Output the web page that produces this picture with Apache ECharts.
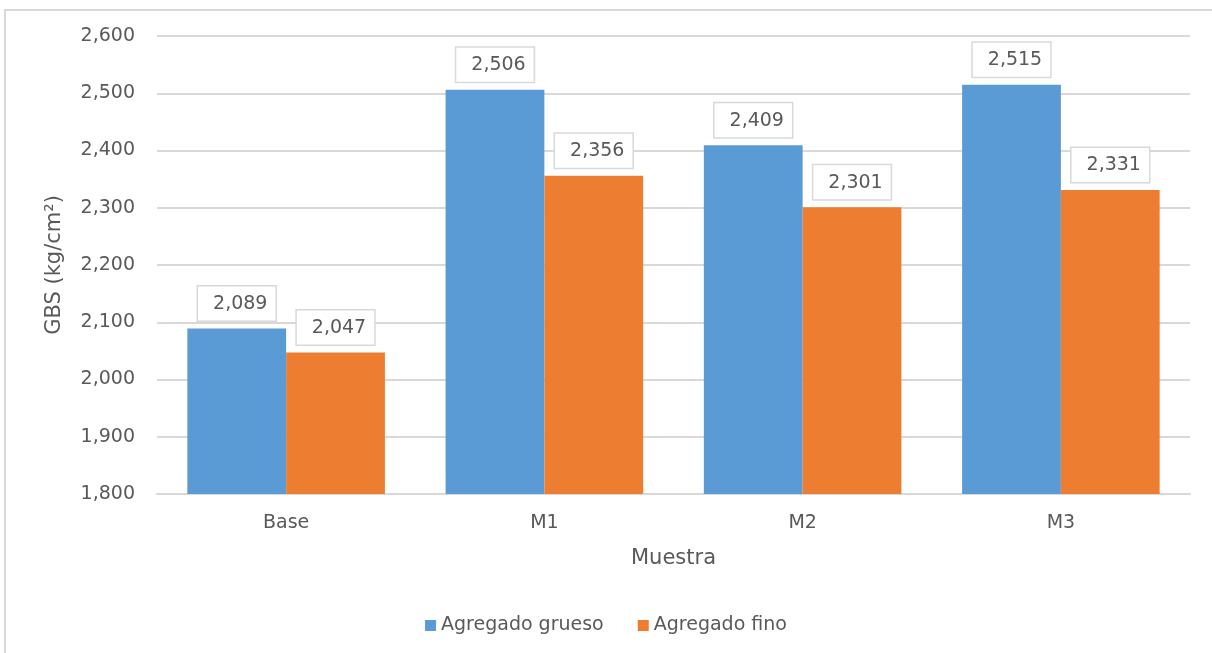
<!DOCTYPE html>
<html>
<head>
<meta charset="utf-8">
<script src="https://cdn.jsdelivr.net/npm/echarts@6/dist/echarts.min.js"></script>
<style>
  html, body { margin: 0; padding: 0; background: #ffffff; }
  #chart { width: 1212px; height: 653px; }
</style>
</head>
<body>
<div id="chart"></div>
<script>
// Muestras y valores de GBS (kg/cm²) por tipo de agregado
const categories = ['Base', 'M1', 'M2', 'M3'];
const agregadoGrueso = [2089, 2506, 2409, 2515];
const agregadoFino = [2047, 2356, 2301, 2331];
const seriesNames = ['Agregado grueso', 'Agregado fino'];
const yMin = 1800, yMax = 2600, yStep = 100;

const FONT = 'DejaVu Sans';
const TEXT = '#595959';
const GRID = '#d9d9d9';

const fmt = v => Number(v).toLocaleString('en-US');

const labelStyle = {
  show: true,
  position: 'top',
  distance: 8,
  formatter: p => fmt(p.value),
  color: TEXT,
  fontFamily: FONT,
  fontSize: 19,
  backgroundColor: '#ffffff',
  borderColor: GRID,
  borderWidth: 1.5,
  padding: [8, 8, 7, 15]
};

const chart = echarts.init(document.getElementById('chart'), null, { renderer: 'canvas' });
chart.setOption({
  animation: false,
  backgroundColor: '#ffffff',
  textStyle: { fontFamily: FONT, color: TEXT },
  graphic: [{
    type: 'rect',
    shape: { x: 5, y: 10, width: 1400, height: 1000 },
    style: { fill: 'none', stroke: GRID, lineWidth: 2 },
    silent: true,
    z: -1
  }],
  grid: { left: 157, right: 22, top: 36, bottom: 159 },
  legend: {
    data: seriesNames,
    bottom: 13,
    left: 'center',
    itemWidth: 11,
    itemHeight: 11,
    itemGap: 34,
    icon: 'rect',
    textStyle: { color: TEXT, fontFamily: FONT, fontSize: 19 }
  },
  xAxis: {
    type: 'category',
    data: categories,
    name: 'Muestra',
    nameLocation: 'middle',
    nameGap: 54,
    nameTextStyle: { color: TEXT, fontFamily: FONT, fontSize: 21 },
    axisLine: { lineStyle: { color: GRID, width: 2 } },
    axisTick: { show: false },
    axisLabel: { color: TEXT, fontFamily: FONT, fontSize: 19, margin: 20 }
  },
  yAxis: {
    type: 'value',
    min: yMin,
    max: yMax,
    interval: yStep,
    name: 'GBS (kg/cm²)',
    nameLocation: 'middle',
    nameGap: 92,
    nameTextStyle: { color: TEXT, fontFamily: FONT, fontSize: 21 },
    axisLine: { show: false },
    axisTick: { show: false },
    splitLine: { lineStyle: { color: GRID, width: 2 } },
    axisLabel: { color: TEXT, fontFamily: FONT, fontSize: 19, margin: 22, formatter: v => fmt(v) }
  },
  series: [
    {
      name: seriesNames[0],
      type: 'bar',
      data: agregadoGrueso,
      barGap: '0%',
      barCategoryGap: '23.5%',
      itemStyle: { color: '#5b9bd5' },
      label: labelStyle
    },
    {
      name: seriesNames[1],
      type: 'bar',
      data: agregadoFino,
      itemStyle: { color: '#ed7d31' },
      label: labelStyle
    }
  ]
});
</script>
</body>
</html>
